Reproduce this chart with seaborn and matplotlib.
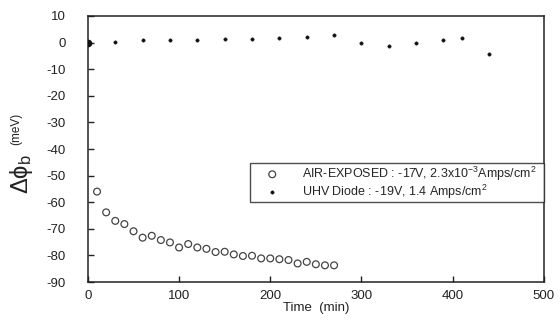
import numpy as np
import pandas as pd
import matplotlib
matplotlib.use('Agg')
import matplotlib.pyplot as plt
import seaborn as sns

# data
air_time = [10, 20, 30, 40, 50, 60, 70, 80, 90, 100, 110, 120, 130, 140,
            150, 160, 170, 180, 190, 200, 210, 220, 230, 240, 250, 260, 270]
air_dphi = [-56, -63.8, -67, -68.2, -70.9, -73.3, -72.6, -74.2, -75.1, -77,
            -75.7, -77, -77.5, -78.7, -78.6, -79.6, -80.2, -80.1, -81.1, -81.1,
            -81.4, -81.7, -83, -82.4, -83.3, -83.7, -83.7]

uhv_time = [0, 30, 60, 90, 120, 150, 180, 210, 240, 270, 300, 330, 360, 390, 410, 440]
uhv_dphi = [0, 0.1, 0.8, 0.8, 0.8, 1.2, 1.2, 1.6, 2.2, 2.8, 0, -1.3, 0, 0.9, 1.6, -4.2]

air_label = r'AIR-EXPOSED : -17V, 2.3x10$^{-3}$Amps/cm$^2$'
uhv_label = r'UHV Diode : -19V, 1.4 Amps/cm$^2$'

air = pd.DataFrame({'Time': air_time, 'dphi': air_dphi})
uhv = pd.DataFrame({'Time': uhv_time, 'dphi': uhv_dphi})

sns.set_style('ticks')
plt.rcParams['font.family'] = ['Liberation Sans', 'DejaVu Sans']
plt.rcParams['axes.unicode_minus'] = False
plt.rcParams['mathtext.fontset'] = 'custom'
plt.rcParams['mathtext.rm'] = 'Liberation Sans'
plt.rcParams['mathtext.it'] = 'Liberation Sans:italic'

W, H = 560, 325
fig = plt.figure(figsize=(5.6, 3.25), dpi=100)
ax = fig.add_axes([0.157, 0.132, 0.814, 0.819])

sns.scatterplot(data=air, x='Time', y='dphi', ax=ax, marker='o', s=24,
                facecolor='none', edgecolor='#444444', linewidth=0.9, label=air_label)
sns.scatterplot(data=uhv, x='Time', y='dphi', ax=ax, marker='o', s=6,
                color='#111111', edgecolor='#111111', linewidth=0.3, label=uhv_label)
# starting point drawn a little bigger
ax.scatter([uhv_time[0]], [uhv_dphi[0]], s=20, color='#111111', zorder=5)

ax.set_xlim(0, 500)
ax.set_ylim(-90, 10)
ax.set_xticks(np.arange(0, 501, 100))
ax.set_yticks(np.arange(-90, 11, 10))
ax.tick_params(direction='in', length=4, width=1, labelsize=9.5, colors='#222222')
ax.tick_params(axis='y', pad=16)
ax.tick_params(axis='x', pad=6)
for sp in ax.spines.values():
    sp.set_linewidth(1.1)
    sp.set_color('#222222')

ax.set_xlabel('Time  (min)', fontsize=9.5, labelpad=0, color='#222222')
ax.set_ylabel('')

# y label in two parts: big symbol, small raised unit
fig.text(28 / W, 1 - 194 / H, r'$\mathregular{\Delta\phi_b}$', fontsize=17,
         rotation=90, rotation_mode='anchor', ha='left', va='baseline', color='#222222')
fig.text(19 / W, 1 - 145 / H, '(meV)', fontsize=8.5,
         rotation=90, rotation_mode='anchor', ha='left', va='baseline', color='#222222')

leg = ax.legend(loc='upper left', bbox_to_anchor=(0.355, 0.312, 0.645, 0.135),
                mode='expand', fontsize=9, frameon=True, fancybox=False,
                borderpad=0.1, labelspacing=0.0, handletextpad=0.7,
                handlelength=3.4, borderaxespad=0)
leg.get_frame().set_edgecolor('#222222')
leg.get_frame().set_linewidth(1.0)

fig.savefig('out.png', dpi=100)
